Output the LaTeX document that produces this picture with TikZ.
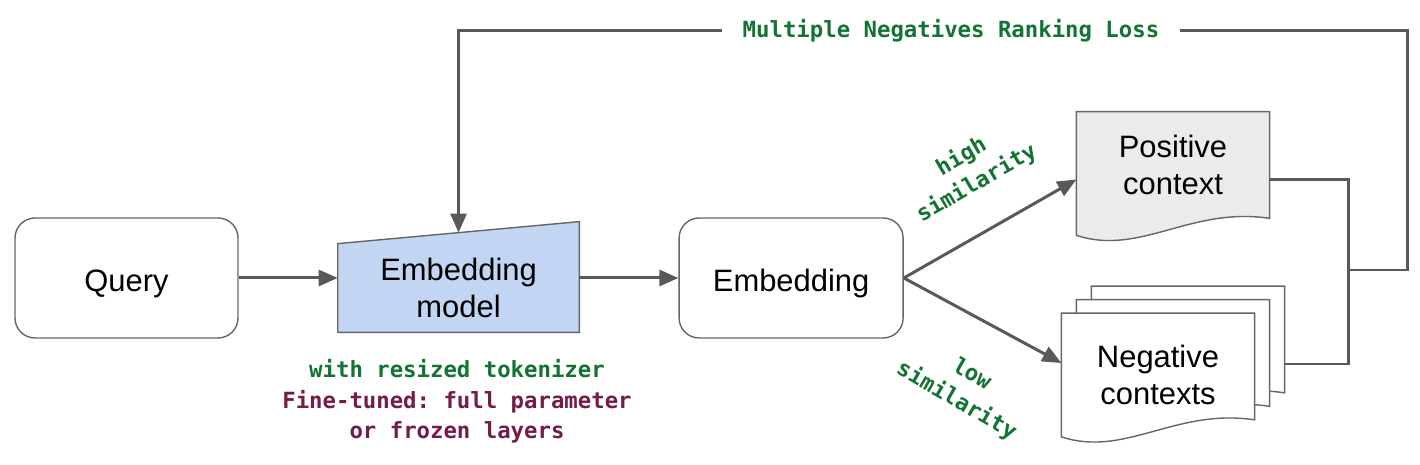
\documentclass[tikz,border=0pt]{standalone}
\usepackage{fontspec}
\setmainfont{Liberation Sans}
\setmonofont{DejaVu Sans Mono}
\usetikzlibrary{positioning,arrows.meta}

\definecolor{modelblue}{HTML}{C2D6F4}
\definecolor{docgray}{HTML}{EBEBEB}
\definecolor{linegray}{HTML}{595959}
\definecolor{edgegray}{HTML}{666666}
\definecolor{lossgreen}{HTML}{137333}
\definecolor{tunemaroon}{HTML}{741B47}

\pgfdeclarelayer{back}
\pgfsetlayers{back,main}

% document outline with a wavy bottom edge
\newcommand{\docshape}[2]{%
  \begin{pgfonlayer}{back}
  \draw[docline, fill=#2] (#1.south west) -- (#1.north west) -- (#1.north east) -- ([yshift=0.34cm]#1.south east)
    .. controls ([xshift=-1.58cm,yshift=0.58cm]#1.south east) and ([xshift=1.27cm,yshift=-0.42cm]#1.south west) .. (#1.south west) -- cycle;
  \end{pgfonlayer}}

\begin{document}
\begin{tikzpicture}[
  every node/.style={align=center},
  mainfont/.style={font=\fontsize{17.6}{21}\selectfont},
  codefont/.style={font=\fontsize{12.7}{17.3}\selectfont\ttfamily\bfseries},
  box/.style={draw=edgegray, line width=0.8pt, rounded corners=0.4cm, minimum width=4.46cm, minimum height=2.4cm, text height=0.55cm, text depth=0pt, mainfont},
  docbox/.style={minimum width=3.85cm, minimum height=2.46cm, inner sep=0pt, mainfont},
  docline/.style={draw=edgegray, line width=0.8pt},
  link/.style={draw=linegray, line width=1.7pt},
  arr/.style={link, -{Triangle[length=0.38cm, width=0.32cm]}},
  note/.style={codefont, text=lossgreen}]

\useasboundingbox (0,0) rectangle (28.4,9.3);

% ---------------- pipeline ----------------
\node[box] (query) at (2.53,3.74) {Query};
\node[minimum width=4.82cm, minimum height=1.76cm, inner sep=0pt, mainfont, right=1.98cm of query, yshift=-0.2cm] (model) {Embedding\\model};
\begin{pgfonlayer}{back}
\draw[docline, fill=modelblue] (model.south west) -- (model.north west) -- ([yshift=0.44cm]model.north east) -- (model.south east) -- cycle;
\end{pgfonlayer}
\node[box, minimum width=4.48cm, right=1.98cm of model, yshift=0.2cm] (embed) {Embedding};

% ---------------- contexts ----------------
\node[docbox, text depth=0.36cm] (pos) at (23.46,5.83) {Positive\\context};
\docshape{pos}{docgray}
\node[docbox] (neg3) at (23.76,2.34) {};
\node[docbox] (neg2) at (23.46,2.07) {};
\node[docbox] (neg1) at (23.16,1.8) {Negative\\contexts};
\docshape{neg3}{white}
\docshape{neg2}{white}
\docshape{neg1}{white}

% ---------------- arrows ----------------
\draw[arr] (query) -- (query -| model.west);
\draw[arr] (model.east |- embed) -- (embed);
\draw[arr] (embed.east) -- ([yshift=-0.12cm]pos.west);
\draw[arr] (embed.east) -- ([yshift=0.24cm]neg1.west);

% loss fed back to the model
\coordinate (join) at (26.96,3.9);
\node[note, inner xsep=0.4cm] (loss) at (19.02,8.68) {Multiple Negatives Ranking Loss};
\draw[link] ([yshift=-0.12cm]pos.east) -| (join);
\draw[link] ([yshift=-0.32cm]neg3.east) -| (join);
\draw[link] (join) -- ++(1.18,0) |- (loss.east);
\draw[arr] (loss.west) -| ([yshift=0.22cm]model.north);

% labels
\node[note, rotate=30] (high) at (19.38,5.9) {high\\similarity};
\node[note, rotate=-30] (low) at (19.28,1.54) {low\\similarity};
\node[codefont] (notes) at (9.14,1.27) {\textcolor{lossgreen}{with resized tokenizer}\\\textcolor{tunemaroon}{Fine-tuned: full parameter}\\\textcolor{tunemaroon}{or frozen layers}};
\end{tikzpicture}
\end{document}
